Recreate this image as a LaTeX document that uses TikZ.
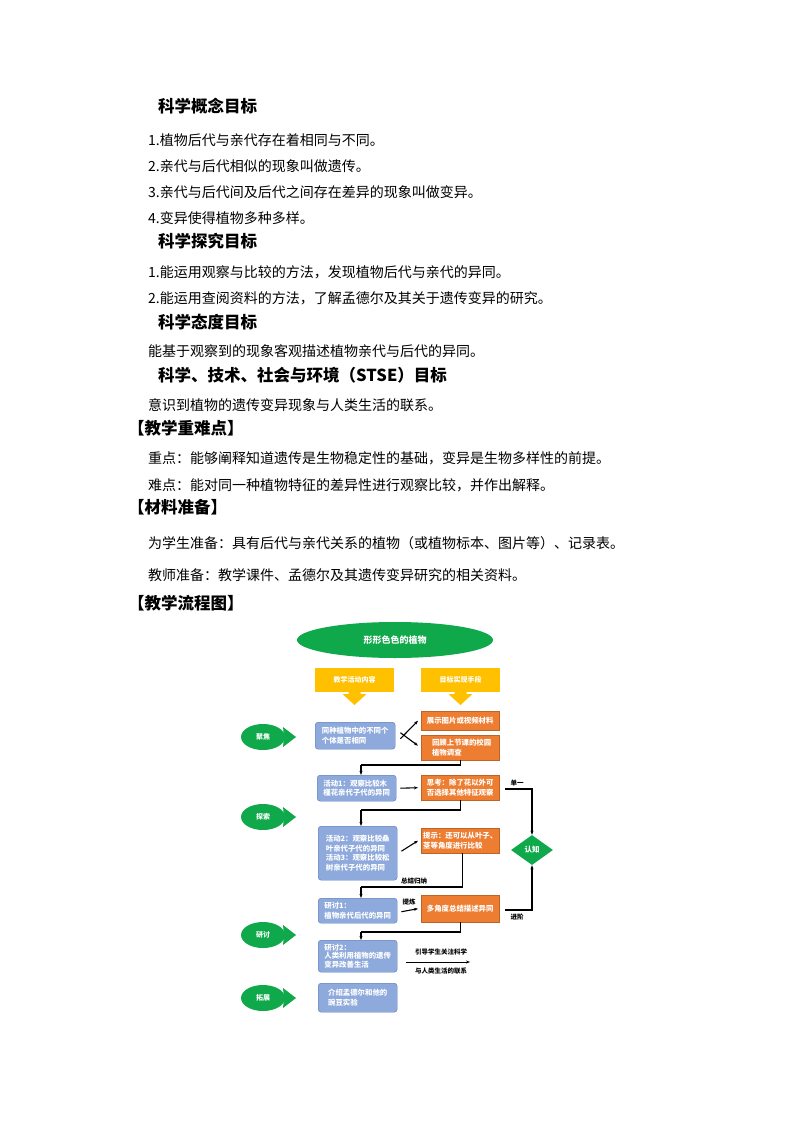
\documentclass[tikz,border=0pt]{standalone}
\usepackage{fontspec}
\setmainfont{Noto Sans CJK SC}
\usetikzlibrary{shapes.geometric,arrows.meta}
\definecolor{fgreen}{HTML}{0FA84A}
\definecolor{fblue}{HTML}{8EA9DB}
\definecolor{fblueb}{HTML}{5A7BB5}
\definecolor{forange}{HTML}{ED7D31}
\definecolor{fyellow}{HTML}{FFC000}
\begin{document}
\begin{tikzpicture}[x=1pt,y=-1pt,
 body/.style={anchor=west,font=\fontsize{14}{16}\selectfont,inner sep=0},
 head/.style={anchor=west,font=\fontsize{16.5}{18}\selectfont\bfseries,inner sep=0},
 bbox/.style={draw=fblueb,fill=fblue,rounded corners=3pt,text=white,font=\fontsize{7.4}{9.5}\selectfont\bfseries,align=left,inner sep=2pt,anchor=north west},
 obox/.style={draw=forange!80!black,fill=forange,text=white,font=\fontsize{7.4}{9.5}\selectfont\bfseries,align=left,inner sep=2pt,anchor=north west},
 lab/.style={font=\fontsize{6.5}{8}\selectfont\bfseries,inner sep=1pt},
 arr/.style={-{Stealth[length=4pt]},line width=1.1pt},
 ln/.style={line width=1.1pt}]
\useasboundingbox (0,0) rectangle (794,1123);
\node[head] (h1) at (158,106) {科学概念目标};
\node[body] (a1) at (148,140) {1.植物后代与亲代存在着相同与不同。};
\node[body] (a2) at (148,166) {2.亲代与后代相似的现象叫做遗传。};
\node[body] (a3) at (148,192) {3.亲代与后代间及后代之间存在差异的现象叫做变异。};
\node[body] (a4) at (148,218) {4.变异使得植物多种多样。};
\node[head] (h2) at (158,241) {科学探究目标};
\node[body] (b1) at (148,272) {1.能运用观察与比较的方法，发现植物后代与亲代的异同。};
\node[body] (b2) at (148,298) {2.能运用查阅资料的方法，了解孟德尔及其关于遗传变异的研究。};
\node[head] (h3) at (158,322) {科学态度目标};
\node[body] (c1) at (148,351) {能基于观察到的现象客观描述植物亲代与后代的异同。};
\node[head] (h4) at (158,375) {科学、技术、社会与环境（STSE）目标};
\node[body] (d1) at (148,405) {意识到植物的遗传变异现象与人类生活的联系。};
\node[head] (h5) at (128,428) {【教学重难点】};
\node[body] (e1) at (148,458) {重点：能够阐释知道遗传是生物稳定性的基础，变异是生物多样性的前提。};
\node[body] (e2) at (148,485) {难点：能对同一种植物特征的差异性进行观察比较，并作出解释。};
\node[head] (h6) at (128,507) {【材料准备】};
\node[body] (f1) at (148,543) {为学生准备：具有后代与亲代关系的植物（或植物标本、图片等）、记录表。};
\node[body] (f2) at (148,575) {教师准备：教学课件、孟德尔及其遗传变异研究的相关资料。};
\node[head] (h7) at (128,603) {【教学流程图】};
% title ellipse
\node[ellipse,fill=fgreen,minimum width=196,minimum height=36,text=white,font=\fontsize{9}{10}\selectfont\bfseries] (t) at (395,640) {形形色色的植物};
% yellow arrows
\foreach \x/\txt/\n in {315/教学活动内容/y1,421/目标实现手段/y2}{
 \fill[fyellow] (\x,668) rectangle ++(79,24);
 \fill[fyellow] (\x+33.5,691) -- ++(0,3) -- ++(-6,0) -- ++(12,11) -- ++(12,-11) -- ++(-6,0) -- ++(0,-3) -- cycle;
 \node[text=white,font=\fontsize{7}{8}\selectfont\bfseries] (\n) at (\x+39.5,680) {\txt};
}
% fish labels
\foreach \y/\txt/\n in {737/聚焦/p1,817/探索/p2,935/研讨/p3,998/拓展/p4}{
 \fill[fgreen] (284,\y) -- (296,\y) -- (283,\y-10) -- cycle;
 \fill[fgreen] (284,\y) -- (296,\y) -- (283,\y+10) -- cycle;
 \node[ellipse,fill=fgreen,minimum width=44,minimum height=26,inner sep=0,text=white,font=\fontsize{7}{8}\selectfont\bfseries] (\n) at (263,\y) {\txt};
}
% blue boxes
\node[bbox,minimum width=80,minimum height=27] (B1) at (315,722) {同种植物中的不同个\\个体是否相同};
\node[bbox,minimum width=79,minimum height=26] (B2) at (317,775) {活动1：观察比较木\\槿花亲代子代的异同};
\node[bbox,minimum width=79,minimum height=54] (B3) at (318,826) {活动2：观察比较桑\\叶亲代子代的异同\\活动3：观察比较松\\树亲代子代的异同};
\node[bbox,minimum width=79,minimum height=25] (B4) at (318,898) {研讨1：\\植物亲代后代的异同};
\node[bbox,minimum width=79,minimum height=32,font=\fontsize{7.4}{8.5}\selectfont\bfseries] (B5) at (318,940) {研讨2：\\人类利用植物的遗传\\变异改善生活};
\node[bbox,minimum width=79,minimum height=29] (B6) at (318,983) {介绍孟德尔和他的\\豌豆实验};
% orange boxes
\node[obox,minimum width=78,minimum height=19] (O1) at (421,711) {展示图片或视频材料};
\node[obox,minimum width=78,minimum height=25] (O2) at (421,735) {\ \,回顾上节课的校园\\\ \,植物调查};
\node[obox,minimum width=78,minimum height=25] (O3) at (421,775) {思考：除了花以外可\\否选择其他特征观察};
\node[obox,minimum width=78,minimum height=25] (O4) at (421,828) {提示：还可以从叶子、\\茎等角度进行比较};
\node[obox,minimum width=78,minimum height=27,align=center] (O5) at (421,895) {多角度总结描述异同};
\node[diamond,fill=fgreen,minimum width=42,minimum height=30,inner sep=0,text=white,font=\fontsize{7.5}{8}\selectfont\bfseries] (D) at (532,850) {认知};
% connectors
\draw[arr] ([xshift=5pt,yshift=-3pt]B1.east) -- ([xshift=-3pt]O1.west);
\draw[arr] ([xshift=5pt,yshift=3pt]B1.east) -- ([xshift=-3pt,yshift=2pt]O2.west);
\coordinate (k1) at (361,765);
\draw[ln] (O2.south) |- (k1);
\draw[arr] (k1) -- (B2.north -| k1);
\draw[arr] ([xshift=4pt]B2.east) -- ([xshift=-3pt]O3.west);
\coordinate (k2) at (361,810);
\draw[ln] (O3.south) |- (k2);
\draw[arr] (k2) -- (B3.north -| k2);
\draw[arr] ([xshift=4pt,yshift=2pt]B3.east) -- ([xshift=-3pt]O4.west);
\coordinate (k3) at (361,887);
\draw[ln] ([xshift=2pt]O4.south) |- (k3);
\draw[arr] (k3) -- (B4.north -| k3);
\node[lab] (l1) at (414,881) {总结归纳};
\draw[arr] ([xshift=4pt,yshift=-1pt]B4.east) -- ([xshift=-3pt]O5.west);
\node[lab] (l2) at (409,902) {提炼};
\coordinate (k4) at (361,932);
\draw[ln] (O5.south) |- (k4);
\draw[arr] (k4) -- (B5.north -| k4);
\coordinate (k5) at (505,789);
\draw[arr] (k5) -| (D.north);
\node[lab] (l3) at (517,783) {单一};
\coordinate (k6) at (505,910);
\draw[arr] (k6) -| (D.south);
\node[lab] (l4) at (517,917) {进阶};
\coordinate (k7) at (470,962);
\coordinate (k8) at (406,962);
\draw[arr,line width=0.8pt] (k8) -- (k7);
\node[lab] (l5) at (441,952) {引导学生关注科学};
\node[lab] (l6) at (441,971) {与人类生活的联系};
\end{tikzpicture}
\end{document}
